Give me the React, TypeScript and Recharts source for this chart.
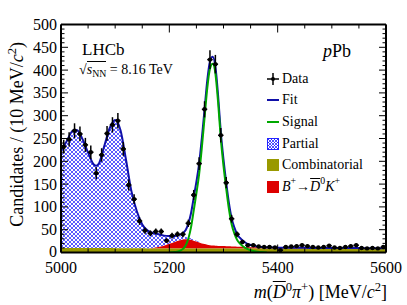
import { ComposedChart, Area, Line, Scatter, ErrorBar, XAxis, YAxis } from 'recharts';

const serif = "'Liberation Serif', 'Times New Roman', serif";

// measured bin centres (MeV/c2) and candidate counts per 10 MeV bin
const binCentres = [
  5005, 5015, 5025, 5035, 5045, 5055, 5065, 5075, 5085, 5095,
  5105, 5115, 5125, 5135, 5145, 5155, 5165, 5175, 5185, 5195,
  5205, 5215, 5225, 5235, 5245, 5255, 5265, 5275, 5285, 5295,
  5305, 5315, 5325, 5335, 5345, 5355, 5365, 5375, 5385, 5395,
  5405, 5415, 5425, 5435, 5445, 5455, 5465, 5475, 5485, 5495,
  5505, 5515, 5525, 5535, 5545, 5555, 5565, 5575, 5585, 5595,
];
const candidates = [
  232, 248, 267, 260, 236, 220, 174, 214, 261, 280,
  289, 227, 148, 117, 69, 48, 42, 46, 46, 26,
  37, 40, 40, 64, 126, 195, 314, 423, 413, 257,
  153, 74, 40, 23, 16, 16, 13, 12, 12, 11,
  5, 12, 13, 14, 16, 14, 12, 11, 12, 15,
  11, 10, 12, 14, 16, 10, 9, 10, 9, 12,
];

// fit components
const massGrid = [
  5000, 5010, 5020, 5025, 5030, 5040, 5050, 5060, 5065, 5070,
  5080, 5090, 5100, 5110, 5120, 5130, 5140, 5150, 5160, 5170,
  5180, 5190, 5200, 5210, 5220, 5230, 5240, 5245, 5250, 5255,
  5260, 5265, 5270, 5275, 5280, 5285, 5290, 5295, 5300, 5305,
  5310, 5315, 5320, 5325, 5330, 5340, 5350, 5360, 5370, 5380,
  5390, 5400, 5420, 5440, 5460, 5480, 5500, 5520, 5540, 5560,
  5580, 5600,
];
const partial = [
  214, 233, 255, 259, 258, 238, 209, 184, 180, 185,
  224, 263, 281, 258, 194, 125, 81, 52, 39, 33,
  28, 22, 17, 12, 8, 5, 3, 2, 1.5, 1,
  0.5, 0, 0, 0, 0, 0, 0, 0, 0, 0,
  0, 0, 0, 0, 0, 0, 0, 0, 0, 0,
  0, 0, 0, 0, 0, 0, 0, 0, 0, 0,
  0, 0,
];
const bdk = [
  0, 0, 0, 0, 0, 0, 0, 0, 0, 0,
  0, 0, 0, 0, 0, 0, 0, 0, 0, 1,
  3, 6, 10, 14, 18, 20, 19, 17, 15, 13,
  11, 9.5, 8, 7, 6.5, 6, 5.5, 5, 5, 4.5,
  4.5, 4, 4, 3.5, 3.5, 3, 2.5, 2.5, 2, 2,
  2, 1.5, 1.5, 1.5, 1, 1, 1, 1, 1, 0.5,
  0.5, 0.5,
];
const combinatorial = [
  10, 10, 10, 10, 10, 10, 10, 10, 10, 10,
  10, 10, 9.5, 9.5, 9.5, 9.5, 9.5, 9.5, 9, 9,
  9, 9, 9, 9, 9, 9, 9, 9, 9, 9,
  9, 9, 9, 9, 9, 9, 9, 9, 9, 9,
  9, 9, 9, 9, 9, 9, 9, 9, 9, 9,
  9, 9, 9, 9, 9, 9, 9, 9, 9, 9,
  9, 9,
];
const signal = [
  null, null, null, null, null, null, null, null, null, null,
  null, null, null, null, null, null, null, null, null, null,
  null, null, 0, 1, 4, 15, 55, 92, 130, 172,
  230, 295, 360, 403, 414, 393, 330, 250, 190, 140,
  95, 62, 42, 28, 20, 10, 5, 2, 1, 0,
  null, null, null, null, null, null, null, null, null, null,
  null, null,
];

const xMajor = [5000, 5200, 5400, 5600];
const yMajor = [0, 50, 100, 150, 200, 250, 300, 350, 400, 450, 500];
const xTicks = Array.from({ length: 13 }, (_, i) => 5000 + i * 50);
const yTicks = Array.from({ length: 51 }, (_, i) => i * 10);

const curveRows = massGrid.map((m, i) => {
  const c = combinatorial[i];
  const r = bdk[i];
  const p = partial[i];
  const s = signal[i];
  return {
    m,
    comb: [0, c],
    bdkBand: [c, c + r],
    partialBand: [c + r, c + r + p],
    fit: c + r + p + (s ?? 0),
    signal: s,
  };
});

const points = binCentres.map((m, i) => ({
  m,
  n: candidates[i],
  ey: Math.sqrt(candidates[i]),
  ex: 5,
}));

const hatchBlue = '#2424ff';
const fitBlue = '#1010a8';

function BottomTick(props: any) {
  const { x, y, payload } = props;
  const major = xMajor.includes(payload.value);
  return (
    <g>
      <line x1={x} x2={x} y1={y} y2={y - (major ? 8 : 4)} stroke="#000" />
      {major && (
        <text x={x} y={y + 20.5} textAnchor="middle" fontSize={16} fontFamily={serif} fill="#000">
          {payload.value}
        </text>
      )}
    </g>
  );
}

function TopTick(props: any) {
  const { x, y, payload } = props;
  const major = xMajor.includes(payload.value);
  return <line x1={x} x2={x} y1={y} y2={y + (major ? 8 : 4)} stroke="#000" />;
}

function LeftTick(props: any) {
  const { x, y, payload } = props;
  const major = yMajor.includes(payload.value);
  return (
    <g>
      <line x1={x} x2={x + (major ? 7 : 3.5)} y1={y} y2={y} stroke="#000" />
      {major && (
        <text x={x - 4} y={y + (payload.value === 0 ? 4 : 5.5)} textAnchor="end" fontSize={16} fontFamily={serif} fill="#000">
          {payload.value}
        </text>
      )}
    </g>
  );
}

function RightTick(props: any) {
  const { x, y, payload } = props;
  const major = yMajor.includes(payload.value);
  return <line x1={x} x2={x - (major ? 7 : 3.5)} y1={y} y2={y} stroke="#000" />;
}

function DataDot(props: any) {
  return <circle cx={props.cx} cy={props.cy} r={2.2} fill="#000" />;
}

const Sup = ({ children }: any) => (
  <span style={{ fontSize: '0.7em', position: 'relative', top: '-0.55em' }}>{children}</span>
);
const Sub = ({ children }: any) => (
  <span style={{ fontSize: '0.7em', position: 'relative', top: '0.3em' }}>{children}</span>
);

const legendRow = (top: number): any => ({
  position: 'absolute',
  left: 267,
  top: top - 9,
  height: 18,
  display: 'flex',
  alignItems: 'center',
  fontSize: 14,
  lineHeight: '18px',
  whiteSpace: 'nowrap',
});

const swatch = { width: 12, height: 12, marginRight: 3, flex: 'none' };

export default function App() {
  return (
    <div style={{ position: 'absolute', left: 0, top: 0, width: 407, height: 305, background: '#fff', fontFamily: serif, color: '#000' }}>
      <ComposedChart width={407} height={305} data={curveRows} margin={{ top: 23.5, right: 20, bottom: 22.5, left: 0 }}>
        <defs>
          <pattern id="partialHatch" patternUnits="userSpaceOnUse" width={4} height={4}>
            <rect width={4} height={4} fill="#fff" />
            <path d="M0,0L4,4M4,0L0,4" stroke={hatchBlue} strokeWidth={0.75} />
          </pattern>
        </defs>
        <XAxis
          dataKey="m" type="number" domain={[5000, 5600]} allowDataOverflow ticks={xTicks} interval={0}
          height={30} tickSize={0} tickMargin={0} tickLine={false}
          axisLine={{ stroke: '#000', strokeWidth: 2 }} tick={<BottomTick />}
        />
        <XAxis
          xAxisId="top" orientation="top" dataKey="m" type="number" domain={[5000, 5600]} allowDataOverflow
          ticks={xTicks} interval={0} height={1} tickSize={0} tickMargin={0} tickLine={false}
          axisLine={{ stroke: '#000', strokeWidth: 2 }} tick={<TopTick />}
        />
        <YAxis
          type="number" domain={[0, 500]} allowDataOverflow ticks={yTicks} interval={0}
          width={61} tickSize={0} tickMargin={0} tickLine={false}
          axisLine={{ stroke: '#000', strokeWidth: 2 }} tick={<LeftTick />}
        />
        <YAxis
          yAxisId="right" orientation="right" type="number" domain={[0, 500]} allowDataOverflow ticks={yTicks}
          interval={0} width={1} tickSize={0} tickMargin={0} tickLine={false}
          axisLine={{ stroke: '#000', strokeWidth: 2 }} tick={<RightTick />}
        />
        <Area type="monotone" dataKey="partialBand" fill="url(#partialHatch)" fillOpacity={1} stroke="none" isAnimationActive={false} />
        <Area type="monotone" dataKey="bdkBand" fill="#dd0000" fillOpacity={1} stroke="none" isAnimationActive={false} />
        <Area type="monotone" dataKey="comb" fill="#999900" fillOpacity={1} stroke="none" isAnimationActive={false} />
        <Line type="monotone" dataKey="fit" stroke={fitBlue} strokeWidth={2} dot={false} isAnimationActive={false} />
        <Line type="monotone" dataKey="signal" stroke="#00a800" strokeWidth={2} dot={false} isAnimationActive={false} />
        <Scatter data={points} dataKey="n" shape={<DataDot />} isAnimationActive={false}>
          <ErrorBar dataKey="ey" direction="y" width={0} stroke="#000" strokeWidth={1.5} />
          <ErrorBar dataKey="ex" direction="x" width={0} stroke="#000" strokeWidth={1.5} />
        </Scatter>
      </ComposedChart>

      {/* y title */}
      <div
        style={{
          position: 'absolute', left: 8, top: 282, width: 240, height: 18, textAlign: 'right',
          fontSize: 18, lineHeight: '18px', whiteSpace: 'nowrap',
          transform: 'rotate(-90deg)', transformOrigin: 'left top',
        }}
      >
        Candidates / (10 MeV/<i>c</i><Sup>2</Sup>)
      </div>

      {/* x title */}
      <div style={{ position: 'absolute', left: 147, top: 283, width: 240, textAlign: 'right', fontSize: 18, lineHeight: '18px', whiteSpace: 'nowrap' }}>
        <i>m</i>(<i style={{ textDecoration: 'overline' }}>D</i><Sup>0</Sup><i>π</i><Sup>+</Sup>) [MeV/<i>c</i><Sup>2</Sup>]
      </div>

      <div style={{ position: 'absolute', left: 82, top: 41, fontSize: 17, lineHeight: '17px' }}>LHCb</div>
      <div style={{ position: 'absolute', left: 79, top: 63, fontSize: 14, lineHeight: '14px', whiteSpace: 'nowrap' }}>
        √<span style={{ borderTop: '1px solid #000' }}><i>s</i><Sub>NN</Sub></span> = 8.16 TeV
      </div>
      <div style={{ position: 'absolute', left: 323, top: 42, fontSize: 18, lineHeight: '18px' }}>
        <i>p</i>Pb
      </div>

      {/* legend */}
      <div style={legendRow(78.5)}>
        <svg style={swatch} viewBox="0 0 12 12">
          <line x1={0} x2={12} y1={6} y2={6} stroke="#000" strokeWidth={1.5} />
          <line x1={6} x2={6} y1={0} y2={12} stroke="#000" strokeWidth={1.5} />
          <circle cx={6} cy={6} r={2} fill="#000" />
        </svg>
        Data
      </div>
      <div style={legendRow(99.5)}>
        <svg style={swatch} viewBox="0 0 12 12">
          <line x1={0} x2={12} y1={6} y2={6} stroke={fitBlue} strokeWidth={2} />
        </svg>
        Fit
      </div>
      <div style={legendRow(122)}>
        <svg style={swatch} viewBox="0 0 12 12">
          <line x1={0} x2={12} y1={6} y2={6} stroke="#00a800" strokeWidth={2} />
        </svg>
        Signal
      </div>
      <div style={legendRow(144)}>
        <svg style={swatch} viewBox="0 0 12 12">
          <defs>
            <pattern id="legendHatch" patternUnits="userSpaceOnUse" width={3} height={3}>
              <rect width={3} height={3} fill="#fff" />
              <path d="M0,0L3,3M3,0L0,3" stroke={hatchBlue} strokeWidth={0.8} />
            </pattern>
          </defs>
          <rect x={0.5} y={0.5} width={11} height={11} fill="url(#legendHatch)" stroke={hatchBlue} />
        </svg>
        Partial
      </div>
      <div style={legendRow(165)}>
        <div style={{ ...swatch, background: '#999900' }} />
        Combinatorial
      </div>
      <div style={legendRow(186.5)}>
        <div style={{ ...swatch, background: '#dd0000' }} />
        <i>B</i><Sup>+</Sup>→<i style={{ textDecoration: 'overline' }}>D</i><Sup>0</Sup><i>K</i><Sup>+</Sup>
      </div>
    </div>
  );
}
